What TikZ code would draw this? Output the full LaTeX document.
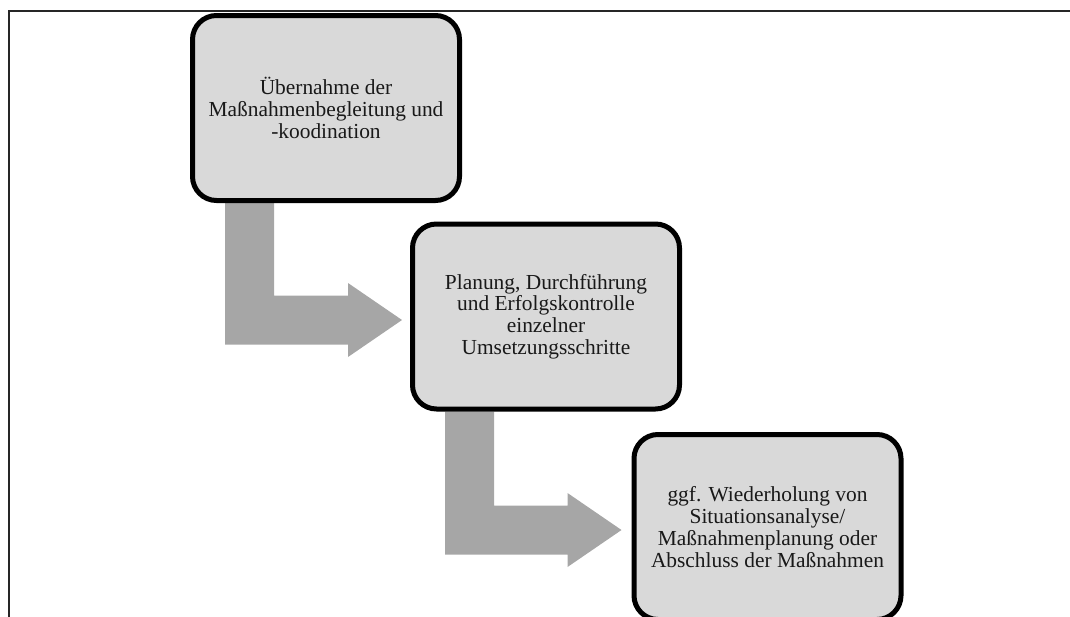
\documentclass[tikz,border=0pt]{standalone}
\usepackage{fontspec}
\setmainfont{Liberation Serif}
\usetikzlibrary{calc,backgrounds}
\definecolor{boxfill}{HTML}{D9D9D9}
\definecolor{arrowfill}{HTML}{A6A6A6}
\tikzset{
  stepbox/.style={draw=black, line width=5pt, fill=boxfill, rounded corners=24pt,
    minimum width=267pt, minimum height=185pt, align=center, inner sep=0pt,
    font=\fontsize{21.4}{21.8}\selectfont, text=black!90},
  bentarrow/.style={fill=arrowfill, draw=none},
  frameline/.style={draw=black!85, line width=2pt}
}
\begin{document}
\begin{tikzpicture}[x=1pt,y=-1pt]
\useasboundingbox (0,0) rectangle (1070,616);
\clip (0,0) rectangle (1070,616);
\draw[frameline] (9,11) rectangle (1090,640);
\node[stepbox] (b1) at (326,108) {Übernahme der\\Maßnahmenbegleitung und\\-koodination};
\node[stepbox] (b2) at (546,316.5) {Planung, Durchführung\\und Erfolgskontrolle\\einzelner\\Umsetzungsschritte};
\node[stepbox] (b3) at (767.5,527) {ggf. Wiederholung von\\Situationsanalyse/\\Maßnahmenplanung oder\\Abschluss der Maßnahmen};
\coordinate (s1) at ($(b1.south west)+(35,0)$);
\coordinate (t1) at ($(b2.west)+(-8,3.5)$);
\coordinate (s2) at ($(b2.south west)+(35,0)$);
\coordinate (t2) at ($(b3.west)+(-10,3)$);
\begin{pgfonlayer}{background}
\foreach \s/\t in {s1/t1, s2/t2}{
  \fill[bentarrow] (\s) -- ($(\s |- \t)+(0,24.5)$) -- ($(\t)+(-54,24.5)$) -- ($(\t)+(-54,37)$)
    -- (\t) -- ($(\t)+(-54,-37)$) -- ($(\t)+(-54,-24.5)$) -- ($(\s |- \t)+(49,-24.5)$)
    -- ($(\s)+(49,0)$) -- cycle;
}
\end{pgfonlayer}
\end{tikzpicture}
\end{document}
